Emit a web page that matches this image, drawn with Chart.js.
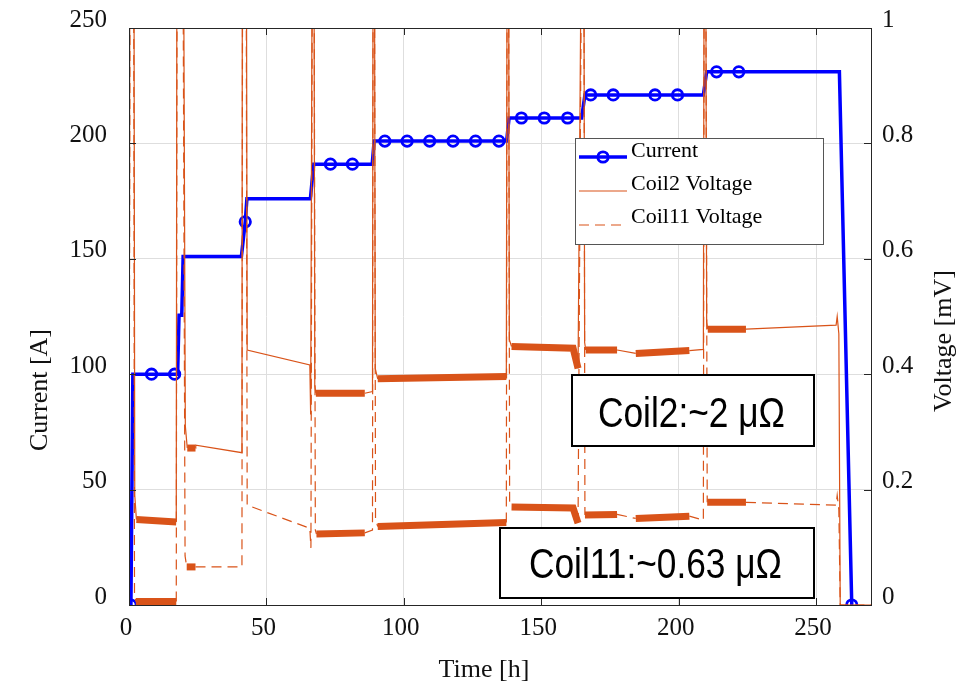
<!DOCTYPE html>
<html>
<head>
<meta charset="utf-8">
<script src="https://cdn.jsdelivr.net/npm/chart.js@4.4.1/dist/chart.umd.min.js"></script>
<style>
  html, body { margin: 0; padding: 0; background: #fff; }
  #wrap { width: 979px; height: 684px; }
</style>
</head>
<body>
<div id="wrap"><canvas id="chart" width="979" height="684"></canvas></div>
<script>
// waarden
const xTicks = [0, 50, 100, 150, 200, 250];
const currentTicks = [0, 50, 100, 150, 200, 250];
const voltTicks = [0, 0.2, 0.4, 0.6, 0.8, 1];

// stroom [A], trapvormig; marker = 1 waar een cirkel staat
const currentTime = [0.7, 1.4, 8.2, 16.6, 17.7, 18.2, 19.2, 19.7, 40.9, 42.3, 42.9, 66.0, 67.2, 73.3, 81.3, 88.5,
  89.2, 93.1, 101.2, 109.4, 117.9, 126.1, 134.6, 137.4, 138.3, 142.8, 151.1, 159.6, 164.7, 165.9, 168.0, 176.2,
  191.4, 199.6, 209.0, 210.2, 213.8, 221.9, 258.5, 263.0];
const currentAmps = [0, 100, 100, 100, 100, 125.5, 125.5, 151, 151, 166, 176, 176, 191, 191, 191, 191,
  201, 201, 201, 201, 201, 201, 201, 201, 211, 211, 211, 211, 211, 221, 221, 221,
  221, 221, 221, 231, 231, 231, 231, 0];
const currentMarker = [1, 0, 1, 1, 0, 0, 0, 0, 0, 1, 0, 0, 0, 1, 1, 0,
  0, 1, 1, 1, 1, 1, 1, 0, 0, 1, 1, 1, 0, 0, 1, 1,
  1, 1, 0, 0, 1, 1, 0, 1];

// spanning spoel 2 [mV]; noisy = 1 als het stuk naar het volgende punt een ruisband is
const coil2Time = [0, 0.4, 1.7, 2.1, 2.7, 17.2, 17.5, 19.6, 20.5, 21.2, 24.2, 24.3, 41.1, 41.3, 42.6, 43.0,
  65.8, 66.1, 66.9, 67.2, 67.6, 68.0, 85.8, 88.6, 88.9, 89.2, 89.6, 90.5, 137.3, 137.7, 138.0, 138.4,
  139.2, 161.6, 163.4, 165.1, 165.4, 165.8, 166.2, 177.6, 184.4, 203.9, 209.0, 209.4, 209.7, 210.2,
  210.6, 224.5, 257.3, 257.7, 258.3, 258.8, 270];
const coil2Volt = [0, 1.5, 1.5, 0.19, 0.148, 0.144, 1.5, 1.5, 0.31, 0.272, 0.272, 0.277, 0.264, 1.5, 1.5, 0.442,
  0.416, 0.33, 1.5, 1.5, 0.38, 0.367, 0.367, 0.37, 1.5, 1.5, 0.41, 0.392, 0.396, 1.5, 1.5, 0.46,
  0.448, 0.445, 0.41, 1.5, 1.5, 0.455, 0.442, 0.442, 0.436, 0.441, 0.443, 1.5, 1.5, 0.49,
  0.478, 0.478, 0.485, 0.5, 0.47, 0, 0];
const coil2Noisy = [0, 0, 0, 0, 1, 0, 0, 0, 0, 1, 0, 0, 0, 0, 0, 0,
  0, 0, 0, 0, 0, 1, 0, 0, 0, 0, 0, 1, 0, 0, 0, 0,
  1, 1, 0, 0, 0, 0, 1, 0, 1, 0, 0, 0, 0, 0,
  1, 0, 0, 0, 0, 0, 0];

// spanning spoel 11 [mV]
const coil11Time = [0, 0.5, 1.6, 2.0, 2.5, 17.2, 17.6, 19.4, 20.4, 21.0, 24.2, 41.1, 41.4, 42.5, 43.0, 65.8,
  66.2, 66.9, 67.2, 67.8, 68.2, 85.8, 88.6, 88.9, 89.2, 89.7, 90.5, 137.3, 137.7, 138.0, 138.5, 139.2,
  161.6, 163.4, 165.1, 165.4, 165.9, 177.6, 184.4, 203.9, 209.0, 209.4, 209.7, 210.4, 224.5, 257.3,
  257.7, 258.3, 258.8, 270];
const coil11Volt = [0, 1.5, 1.5, 0.02, 0.006, 0.006, 1.5, 1.5, 0.085, 0.066, 0.066, 0.066, 1.5, 1.5, 0.173, 0.133,
  0.099, 1.5, 1.5, 0.13, 0.123, 0.125, 0.13, 1.5, 1.5, 0.15, 0.136, 0.143, 1.5, 1.5, 0.18, 0.17,
  0.168, 0.142, 1.5, 1.5, 0.156, 0.157, 0.15, 0.154, 0.147, 1.5, 1.5, 0.178, 0.178, 0.173,
  0.19, 0.165, 0, 0];
const coil11Noisy = [0, 0, 0, 0, 1, 0, 0, 0, 0, 1, 0, 0, 0, 0, 0, 0,
  0, 0, 0, 0, 1, 0, 0, 0, 0, 0, 1, 0, 0, 0, 0, 1,
  1, 0, 0, 0, 1, 0, 1, 0, 0, 0, 0, 1, 0, 0,
  0, 0, 0, 0];

const blauw = '#0000ff';
const oranje = '#d95319';
const asKleur = '#262626';

const punten = (tt, vv) => tt.map((t, i) => ({ x: t, y: vv[i] }));

Chart.defaults.font.family = "'Liberation Serif', 'Times New Roman', serif";
Chart.defaults.color = '#111';

// kader, ticks naar binnen, legenda, tekstvakken en astitels
const kader = {
  id: 'kader',
  afterDatasetsDraw(chart) {
    const { ctx, chartArea: a, scales } = chart;
    ctx.save();
    ctx.strokeStyle = asKleur;
    ctx.lineWidth = 1;
    ctx.strokeRect(a.left + 0.5, a.top + 0.5, a.right - a.left, a.bottom - a.top);
    ctx.beginPath();
    xTicks.forEach(v => {
      const px = Math.round(scales.x.getPixelForValue(v)) + 0.5;
      ctx.moveTo(px, a.bottom); ctx.lineTo(px, a.bottom - 7);
      ctx.moveTo(px, a.top); ctx.lineTo(px, a.top + 7);
    });
    currentTicks.forEach(v => {
      const py = Math.round(scales.yA.getPixelForValue(v)) + 0.5;
      ctx.moveTo(a.left, py); ctx.lineTo(a.left + 7, py);
    });
    voltTicks.forEach(v => {
      const py = Math.round(scales.yV.getPixelForValue(v)) + 0.5;
      ctx.moveTo(a.right, py); ctx.lineTo(a.right - 7, py);
    });
    ctx.stroke();

    // legenda
    ctx.fillStyle = '#fff';
    ctx.fillRect(575, 138, 248, 106);
    ctx.strokeStyle = '#555';
    ctx.strokeRect(575.5, 138.5, 248, 106);
    ctx.strokeStyle = blauw;
    ctx.lineWidth = 3.5;
    ctx.beginPath(); ctx.moveTo(579, 157); ctx.lineTo(627, 157); ctx.stroke();
    ctx.lineWidth = 2.8;
    ctx.beginPath(); ctx.arc(603, 157, 5.2, 0, Math.PI * 2); ctx.stroke();
    ctx.strokeStyle = oranje;
    ctx.lineWidth = 1.2;
    ctx.beginPath(); ctx.moveTo(579, 191); ctx.lineTo(627, 191); ctx.stroke();
    ctx.setLineDash([10, 6]);
    ctx.beginPath(); ctx.moveTo(579, 225); ctx.lineTo(627, 225); ctx.stroke();
    ctx.setLineDash([]);
    ctx.fillStyle = '#000';
    ctx.font = "22px 'Liberation Serif'";
    ctx.textAlign = 'left';
    ctx.textBaseline = 'middle';
    ctx.fillText('Current', 631, 151);
    ctx.fillText('Coil2 Voltage', 631, 184);
    ctx.fillText('Coil11 Voltage', 631, 217);

    // tekstvakken met weerstand
    const notitie = (tekst, bx, by, bw, bh, tx, ty, tw) => {
      ctx.fillStyle = '#fff';
      ctx.fillRect(bx, by, bw, bh);
      ctx.strokeStyle = '#000';
      ctx.lineWidth = 2;
      ctx.strokeRect(bx, by, bw, bh);
      ctx.font = "42px 'Liberation Sans Narrow', 'Liberation Sans', Arial, sans-serif";
      ctx.textAlign = 'left';
      ctx.textBaseline = 'alphabetic';
      const w = ctx.measureText(tekst).width;
      ctx.save();
      ctx.translate(tx, ty);
      ctx.scale(tw / w, 1);
      ctx.fillStyle = '#000';
      ctx.fillText(tekst, 0, 0);
      ctx.restore();
    };
    notitie('Coil2:~2 μΩ', 572, 375, 242, 71, 598, 427, 187);
    notitie('Coil11:~0.63 μΩ', 500, 528, 314, 70, 529, 578, 253);

    // astitels
    ctx.fillStyle = '#111';
    ctx.font = "26px 'Liberation Serif'";
    ctx.textAlign = 'center';
    ctx.textBaseline = 'alphabetic';
    ctx.fillText('Time [h]', 484, 677);
    ctx.save(); ctx.translate(47, 390); ctx.rotate(-Math.PI / 2); ctx.fillText('Current [A]', 0, 0); ctx.restore();
    ctx.save(); ctx.translate(951, 341); ctx.rotate(-Math.PI / 2); ctx.fillText('Voltage [mV]', 0, 0); ctx.restore();
    ctx.restore();
  }
};

const ruisSegment = (noisy, dik, dun, streep) => ({
  borderWidth: c => noisy[c.p0DataIndex] ? dik : dun,
  borderDash: c => noisy[c.p0DataIndex] ? [] : streep
});

// vaste asbreedtes zodat het plotvlak op dezelfde plek ligt
const vastY = breedte => s => { s.width = breedte; s.paddingTop = 0; s.paddingBottom = 0; };

new Chart(document.getElementById('chart'), {
  type: 'line',
  data: {
    datasets: [
      {
        label: 'Current',
        data: punten(currentTime, currentAmps),
        yAxisID: 'yA',
        borderColor: blauw,
        borderWidth: 3.5,
        pointRadius: currentMarker.map(m => m ? 5.2 : 0),
        pointBorderWidth: 2.8,
        pointBorderColor: blauw,
        pointBackgroundColor: 'rgba(0,0,0,0)',
        order: 2
      },
      {
        label: 'Coil2 Voltage',
        data: punten(coil2Time, coil2Volt),
        yAxisID: 'yV',
        borderColor: oranje,
        borderWidth: 1.2,
        pointRadius: 0,
        segment: ruisSegment(coil2Noisy, 7, 1.2, []),
        order: 0
      },
      {
        label: 'Coil11 Voltage',
        data: punten(coil11Time, coil11Volt),
        yAxisID: 'yV',
        borderColor: oranje,
        borderWidth: 1.2,
        borderDash: [10, 6],
        pointRadius: 0,
        segment: ruisSegment(coil11Noisy, 7, 1.2, [10, 6]),
        order: 1
      }
    ]
  },
  options: {
    responsive: false,
    animation: false,
    devicePixelRatio: 1,
    events: [],
    elements: { line: { tension: 0, borderCapStyle: 'butt' } },
    layout: { padding: { top: 28, left: 0, right: 0, bottom: 0 } },
    plugins: { legend: { display: false }, tooltip: { enabled: false } },
    scales: {
      x: {
        type: 'linear',
        min: 0,
        max: 270,
        afterBuildTicks: s => { s.ticks = xTicks.map(v => ({ value: v })); },
        afterFit: s => { s.height = 79; s.paddingLeft = 0; s.paddingRight = 0; },
        grid: { color: '#dedede', lineWidth: 1, drawTicks: false },
        border: { display: false },
        ticks: { font: { size: 25 }, color: '#111', padding: 8, labelOffset: -3, maxRotation: 0, autoSkip: false }
      },
      yA: {
        type: 'linear',
        position: 'left',
        min: 0,
        max: 250,
        afterBuildTicks: s => { s.ticks = currentTicks.map(v => ({ value: v })); },
        afterFit: vastY(129),
        grid: { color: '#dedede', lineWidth: 1, drawTicks: false },
        border: { display: false },
        ticks: { font: { size: 25 }, color: '#111', padding: 22, labelOffset: -8 }
      },
      yV: {
        type: 'linear',
        position: 'right',
        min: 0,
        max: 1,
        afterBuildTicks: s => { s.ticks = voltTicks.map(v => ({ value: v })); },
        afterFit: vastY(108),
        grid: { drawOnChartArea: false, drawTicks: false },
        border: { display: false },
        ticks: { font: { size: 25 }, color: '#111', padding: 11, labelOffset: -8, callback: v => String(v) }
      }
    }
  },
  plugins: [kader]
});
</script>
</body>
</html>
